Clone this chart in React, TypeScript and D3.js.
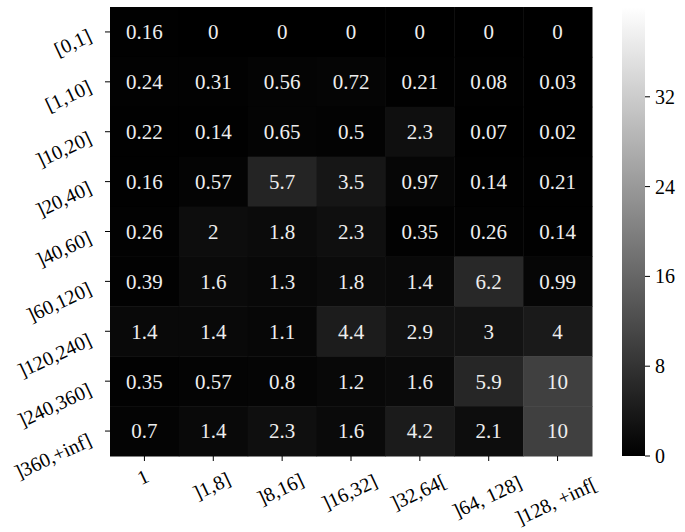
import * as d3 from "d3";
import { useEffect, useRef } from "react";

const rowLabels = ["[0,1]", "[1,10]", "]10,20]", "]20,40]", "]40,60]", "]60,120]", "]120,240]", "]240,360]", "]360,+inf]"];
const colLabels = ["1", "]1,8]", "]8,16]", "]16,32]", "]32,64[", "]64, 128]", "]128, +inf["];
const values = [
    [0.16, 0, 0, 0, 0, 0, 0],
    [0.24, 0.31, 0.56, 0.72, 0.21, 0.08, 0.03],
    [0.22, 0.14, 0.65, 0.5, 2.3, 0.07, 0.02],
    [0.16, 0.57, 5.7, 3.5, 0.97, 0.14, 0.21],
    [0.26, 2, 1.8, 2.3, 0.35, 0.26, 0.14],
    [0.39, 1.6, 1.3, 1.8, 1.4, 6.2, 0.99],
    [1.4, 1.4, 1.1, 4.4, 2.9, 3, 4],
    [0.35, 0.57, 0.8, 1.2, 1.6, 5.9, 10],
    [0.7, 1.4, 2.3, 1.6, 4.2, 2.1, 10],
];
const cbTicks = [0, 8, 16, 24, 32];
const vmax = 40;

const font = "'Liberation Serif', 'DejaVu Serif', serif";

const Heatmap = () => {
    const svgRef = useRef();

    useEffect(() => {
        const svg = d3.select(svgRef.current);
        svg.selectAll("*").remove();

        const width = 685;
        const height = 532;
        svg.attr("width", width).attr("height", height);

        const left = 110, right = 592, top = 7, bottom = 456;
        const fs = 20;
        const asc = 14.5; // ink ascent of brackets/digits
        const rot = 25;
        const sn = Math.sin((rot * Math.PI) / 180), cs = Math.cos((rot * Math.PI) / 180);

        const x = d3.scaleBand().domain(colLabels).range([left, right]);
        const y = d3.scaleBand().domain(rowLabels).range([top, bottom]);
        const gray = (v) => {
            const g = Math.round((v / vmax) * 255);
            return `rgb(${g},${g},${g})`;
        };

        const cells = [];
        values.forEach((row, i) => row.forEach((v, j) => cells.push({ r: rowLabels[i], c: colLabels[j], v })));

        svg.append("g")
            .selectAll("rect")
            .data(cells)
            .enter()
            .append("rect")
            .attr("x", (d) => x(d.c))
            .attr("y", (d) => y(d.r))
            .attr("width", x.bandwidth() + 0.5)
            .attr("height", y.bandwidth() + 0.5)
            .attr("fill", (d) => gray(d.v));

        svg.append("g")
            .selectAll("text")
            .data(cells)
            .enter()
            .append("text")
            .attr("x", (d) => x(d.c) + x.bandwidth() / 2)
            .attr("y", (d) => y(d.r) + y.bandwidth() / 2)
            .attr("dy", "0.35em")
            .attr("text-anchor", "middle")
            .attr("font-family", font)
            .attr("font-size", 21)
            .attr("fill", "#eeeeee")
            .text((d) => String(d.v));

        // row ticks + labels
        const yAxis = svg.append("g");
        rowLabels.forEach((r) => {
            const cy = y(r) + y.bandwidth() / 2;
            yAxis.append("line").attr("x1", left - 5).attr("x2", left).attr("y1", cy).attr("y2", cy).attr("stroke", "#000").attr("stroke-width", 1);
            const t = yAxis.append("text")
                .attr("text-anchor", "end")
                .attr("font-family", font)
                .attr("font-size", fs)
                .attr("fill", "#000")
                .text(r);
            const L = t.node().getComputedTextLength();
            const ax = 93;
            const ay = cy - 9 + 0.12 * L + asc * cs;
            t.attr("transform", `translate(${ax},${ay}) rotate(${-rot})`);
        });

        // column ticks + labels
        const xAxis = svg.append("g");
        colLabels.forEach((c) => {
            const cx = x(c) + x.bandwidth() / 2;
            xAxis.append("line").attr("x1", cx).attr("x2", cx).attr("y1", bottom).attr("y2", bottom + 5).attr("stroke", "#000").attr("stroke-width", 1);
            const t = xAxis.append("text")
                .attr("text-anchor", "middle")
                .attr("font-family", font)
                .attr("font-size", fs)
                .attr("fill", "#000")
                .text(c);
            const L = t.node().getComputedTextLength();
            const ax = cx - 1 + 5.5 * sn;
            const ay = bottom + 11 + 0.1 * L + (L / 2) * sn + asc * cs;
            t.attr("transform", `translate(${ax},${ay}) rotate(${-rot})`);
        });

        // colorbar
        const cbX = 622, cbW = 23;
        const cbScale = d3.scaleLinear().domain([0, vmax]).range([bottom, top]);
        const defs = svg.append("defs");
        const grad = defs.append("linearGradient").attr("id", "cbgrad").attr("x1", 0).attr("x2", 0).attr("y1", 1).attr("y2", 0);
        grad.append("stop").attr("offset", 0).attr("stop-color", gray(0));
        grad.append("stop").attr("offset", 1).attr("stop-color", gray(vmax));
        svg.append("rect")
            .attr("x", cbX)
            .attr("y", top)
            .attr("width", cbW)
            .attr("height", bottom - top)
            .attr("fill", "url(#cbgrad)");

        const cb = svg.append("g");
        cbTicks.forEach((t) => {
            const ty = cbScale(t);
            cb.append("line").attr("x1", cbX + cbW).attr("x2", cbX + cbW + 5).attr("y1", ty).attr("y2", ty).attr("stroke", "#000");
            cb.append("text")
                .attr("x", cbX + cbW + 10)
                .attr("y", ty)
                .attr("dy", "0.35em")
                .attr("font-family", font)
                .attr("font-size", 20)
                .attr("fill", "#000")
                .text(t);
        });
    }, []);

    return <svg ref={svgRef} style={{ position: "absolute", left: 0, top: 0 }}></svg>;
};

export default function App() {
    return <Heatmap />;
}
